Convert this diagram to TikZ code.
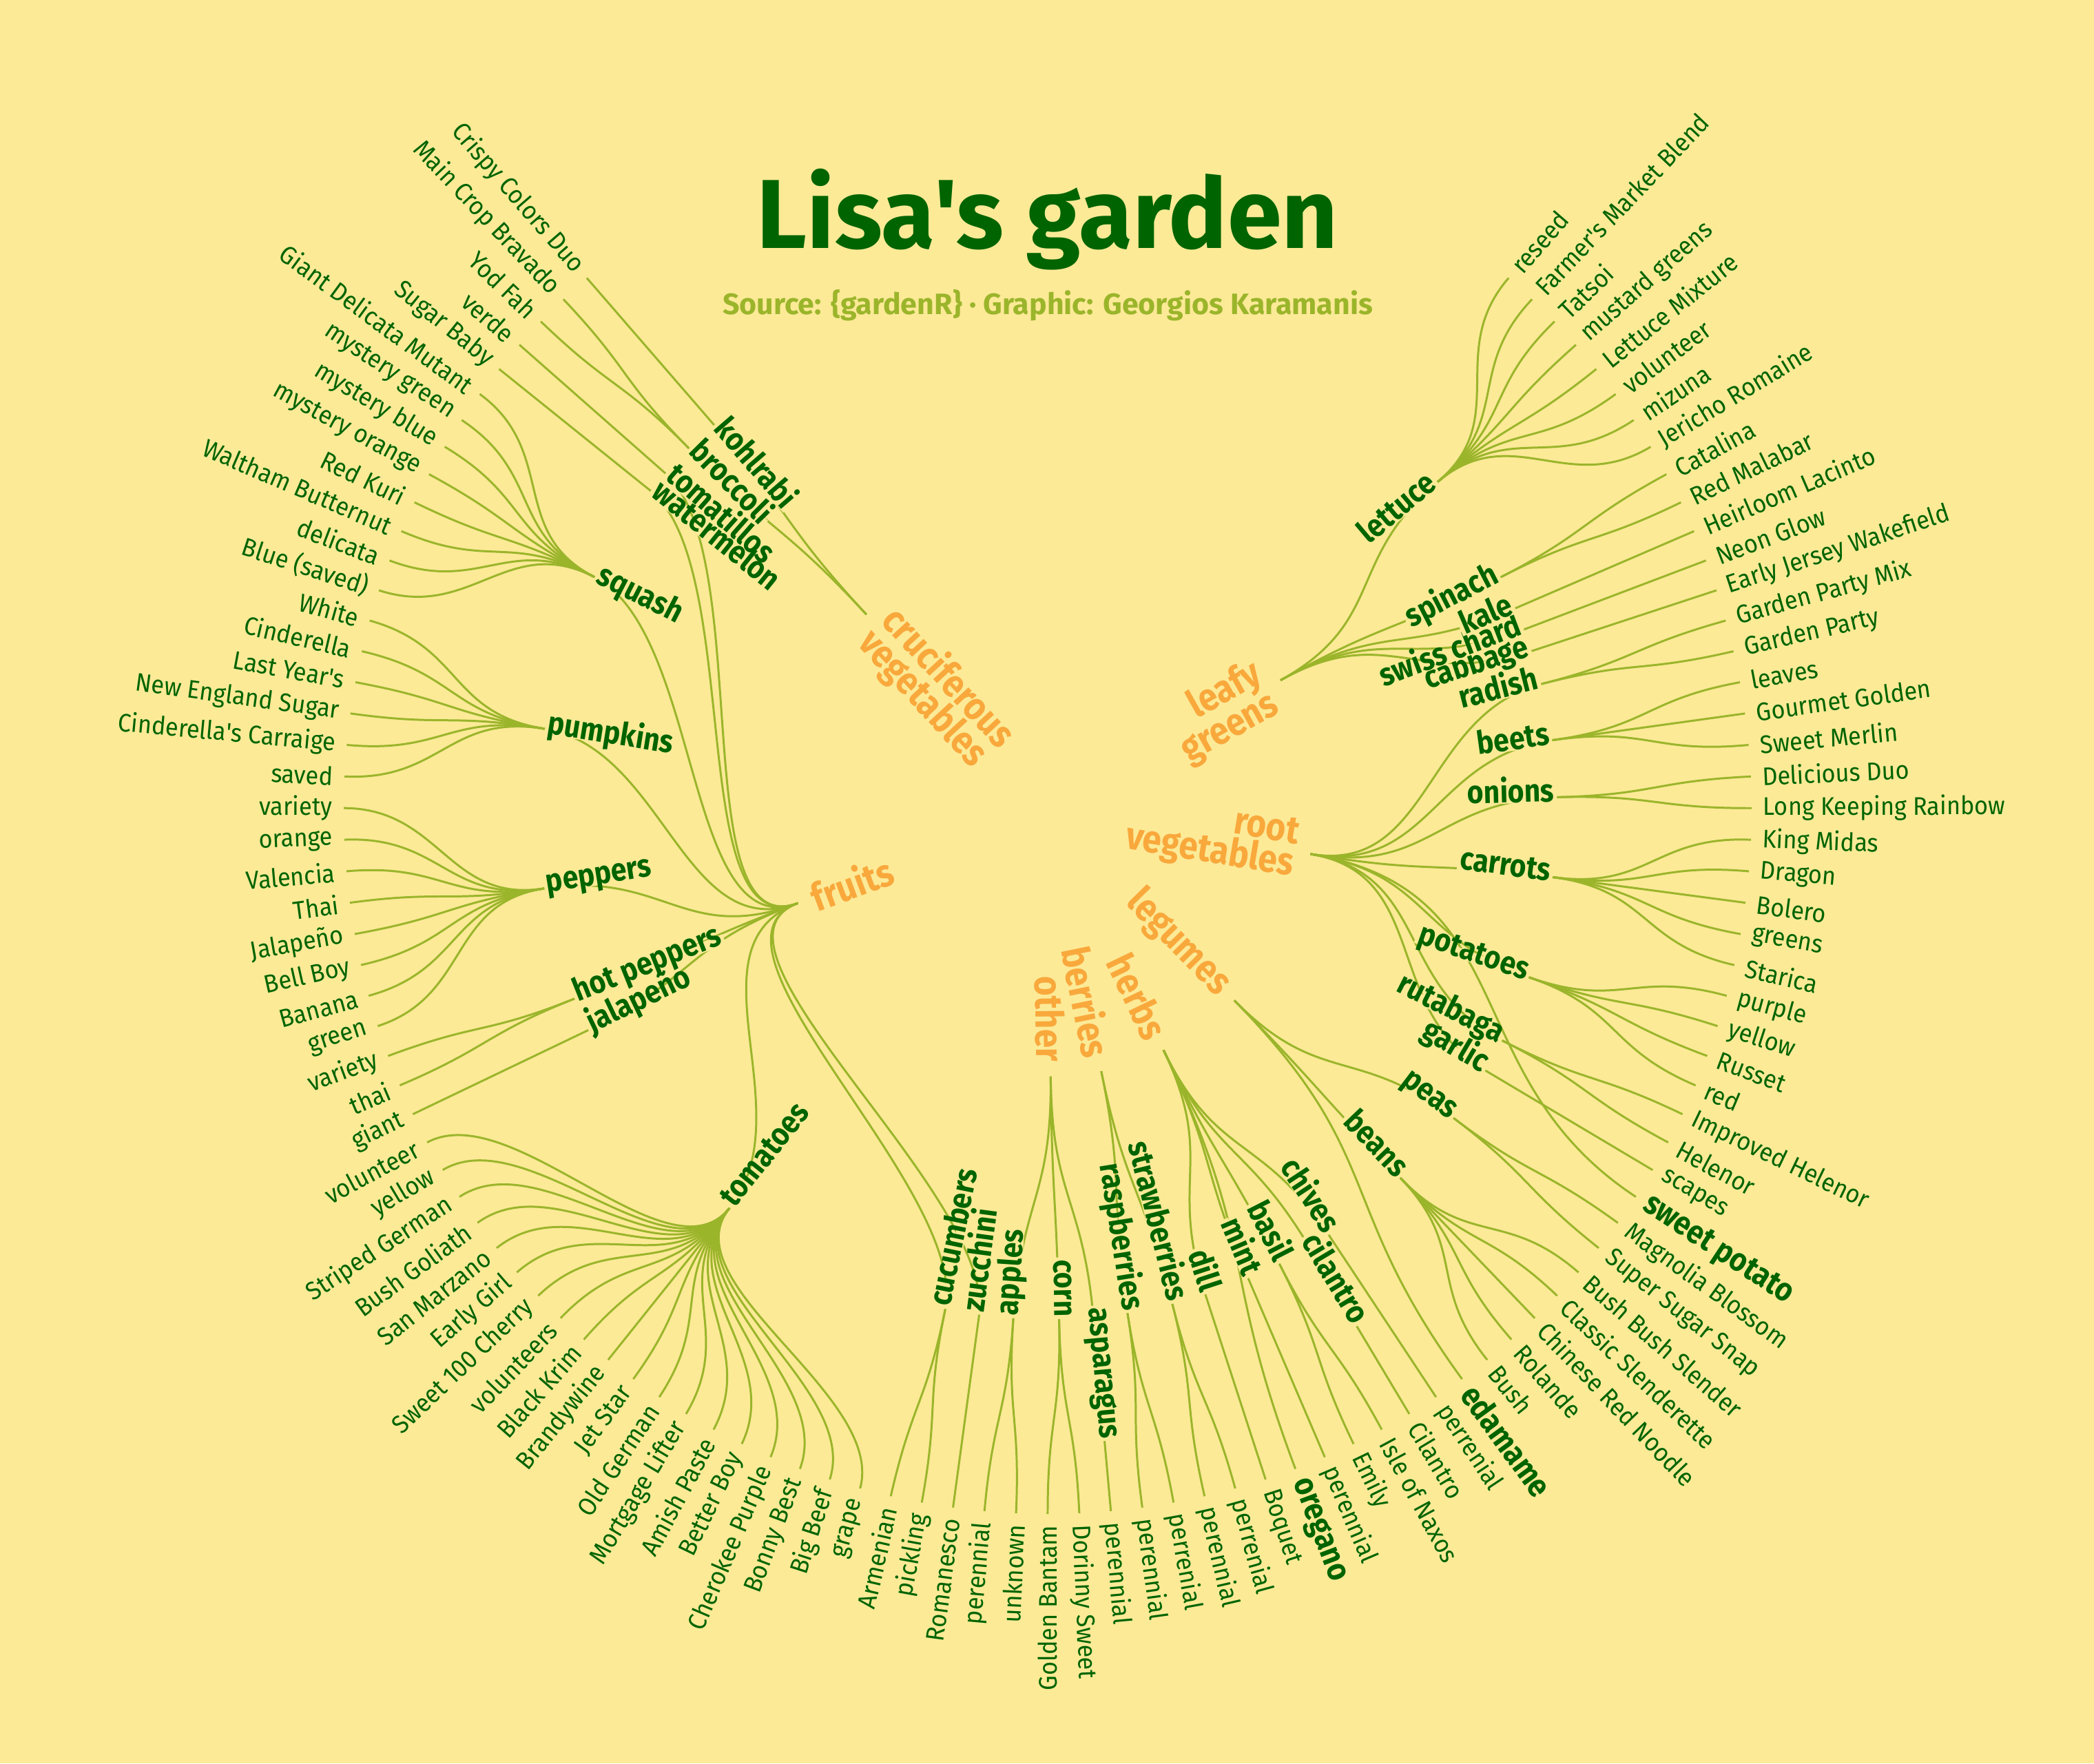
\documentclass[tikz,border=0pt]{standalone}
\usepackage{fontspec}
\newfontfamily\gardenfont{Fira Sans}
\newfontfamily\leaffont[FakeStretch=0.93]{Fira Sans}
\newfontfamily\narrowfont[FakeStretch=0.88]{Fira Sans}
\usetikzlibrary{calc}

\definecolor{paper}{HTML}{FCEA97}
\definecolor{deepgreen}{HTML}{006400}
\definecolor{twig}{HTML}{9BB52B}
\definecolor{catorange}{HTML}{F9A83C}

% radii (cm) of the rings and angle of leaf number #1
\def\rcat{3.87}
\def\ritem{7.40}
\def\rleaf{10.22}
\def\rtext{10.38}
\newcommand{\leafangle}[1]{\pgfmathsetmacro\ang{130.9+(#1)*2.5759}}

\tikzset{
  twigline/.style={draw=twig, line width=0.85pt},
  leaflbl/.style={font=\leaffont\fontsize{10.5}{11}\selectfont, text=deepgreen, inner sep=0pt},
  boldleaf/.style={font=\narrowfont\bfseries\fontsize{13.5}{14}\selectfont, text=deepgreen, inner sep=0pt},
  itemlbl/.style={font=\narrowfont\bfseries\fontsize{13.2}{14}\selectfont, text=deepgreen,
    fill=paper, inner xsep=1pt, inner ysep=0.4pt, text height=0.8ex, text depth=0pt},
  catlbl/.style={font=\narrowfont\bfseries\fontsize{16}{12}\selectfont, text=catorange, inner sep=0pt},
  titlelbl/.style={font=\gardenfont\bfseries\fontsize{40.5}{44}\selectfont, text=deepgreen, anchor=base},
  creditlbl/.style={font=\gardenfont\bfseries\fontsize{12.2}{14}\selectfont, text=twig, anchor=base},
}

% radial label: style, name, angle, radius, outward (1) / inward (0), text
\newcommand{\radlabel}[6]{%
  \pgfmathtruncatemacro\rside{cos(#3)>=0}%
  \pgfmathsetmacro\rrot{\rside==1 ? #3 : #3+180}%
  \pgfmathtruncatemacro\rwest{\rside==#5}%
  \ifnum\rwest=1 \def\ranc{west}\def\ral{left}\else\def\ranc{east}\def\ral{right}\fi
  \edef\ropts{#1, rotate=\rrot, anchor=\ranc, align=\ral}%
  \expandafter\node\expandafter[\ropts] (#2) at (#3:#4) {#6};%
}

% item / first leaf / last leaf / category / category position / label / outward
\def\itemlist{%
  kohlrabi/0/0/cru/0.75/kohlrabi/0,
  broccoli/1/2/cru/0.75/broccoli/0,
  tomatillos/3/3/fru/27/tomatillos/0,
  watermelon/4/4/fru/27/watermelon/0,
  squash/5/12/fru/27/squash/0,
  pumpkins/13/18/fru/27/pumpkins/0,
  peppers/19/26/fru/27/peppers/0,
  hotpeppers/27/28/fru/27/hot peppers/0,
  jalapeno/29/29/fru/27/jalapeño/0,
  tomatoes/30/48/fru/27/tomatoes/0,
  cucumbers/49/50/fru/27/cucumbers/0,
  zucchini/51/51/fru/27/zucchini/0,
  apples/52/53/oth/54.25/apples/0,
  corn/54/55/oth/54.25/corn/0,
  asparagus/56/56/oth/54.25/asparagus/1,
  raspberries/57/58/ber/58.5/raspberries/0,
  strawberries/59/60/ber/58.5/strawberries/0,
  dill/61/61/her/64/dill/0,
  mint/63/63/her/64/mint/0,
  basil/64/65/her/64/basil/0,
  cilantro/66/66/her/64/cilantro/1,
  chives/67/67/her/64/chives/0,
  beans/69/73/leg/71.25/beans/0,
  peas/74/75/leg/71.25/peas/0,
  garlic/77/77/roo/85.25/garlic/0,
  rutabaga/78/79/roo/85.25/rutabaga/0,
  potatoes/80/83/roo/85.25/potatoes/0,
  carrots/84/88/roo/85.25/carrots/0,
  onions/89/90/roo/85.25/onions/0,
  beets/91/93/roo/85.25/beets/0,
  radish/94/95/roo/85.25/radish/0,
  cabbage/96/96/lea/100.25/cabbage/0,
  swisschard/97/97/lea/100.25/swiss chard/0,
  kale/98/98/lea/100.25/kale/0,
  spinach/99/100/lea/100.25/spinach/0,
  lettuce/101/108/lea/100.25/lettuce/0}

\begin{document}
\begin{tikzpicture}

\path[fill=paper, use as bounding box] (-15.21,-13.84) rectangle (15.19,11.76);

\node[titlelbl] (title) at (0,8.15) {Lisa's garden};
\node[creditlbl] (credit) at (0,7.19) {Source: \{gardenR\} · Graphic: Georgios Karamanis};

% ring points
\foreach \i in {0,...,108} {
  \leafangle{\i}
  \coordinate (leaf\i) at (\ang:\rleaf);
}
\foreach \cat/\catx in {cru/0.75, fru/27, oth/54.25, ber/58.5, her/64, leg/71.25, roo/85.25, lea/100.25} {
  \leafangle{\catx}
  \coordinate (\cat) at (\ang:\rcat);
}
\foreach \itm/\fst/\lst/\cat/\catx/\txt/\outw in \itemlist {
  \leafangle{(\fst+\lst)/2}
  \coordinate (\itm) at (\ang:\ritem);
}

% branches
\foreach \itm/\fst/\lst/\cat/\catx/\txt/\outw in \itemlist {
  \leafangle{\catx}\let\ca\ang
  \leafangle{(\fst+\lst)/2}\let\ia\ang
  \draw[twigline] (\cat) .. controls (\ca:5.635) and (\ia:5.635) .. (\itm);
  \foreach \j in {\fst,...,\lst} {
    \leafangle{\j}
    \draw[twigline] (\itm) .. controls (\ia:8.81) and (\ang:8.81) .. (leaf\j);
  }
}
\foreach \cat/\catx/\j in {her/64/62, leg/71.25/68, roo/85.25/76} {
  \leafangle{\catx}\let\ca\ang
  \leafangle{\j}
  \draw[twigline] (\cat) .. controls (\ca:7.045) and (\ang:7.045) .. (leaf\j);
}

% item labels
\foreach \itm/\fst/\lst/\cat/\catx/\txt/\outw in \itemlist {
  \leafangle{(\fst+\lst)/2}
  \pgfmathsetmacro\rr{\outw==1 ? 7.22 : \ritem}
  \radlabel{itemlbl}{\itm-l}{\ang}{\rr}{\outw}{\txt}
}

% category labels
\foreach \cat/\catx/\txt in {cru/0.75/cruciferous\\vegetables, fru/27/fruits, oth/54.25/other,
    ber/58.5/berries, her/64/herbs, leg/71.25/legumes, roo/85.25/root\\vegetables, lea/100.25/leafy\\greens} {
  \leafangle{\catx}
  \radlabel{catlbl}{\cat-l}{\ang}{3.66}{0}{\txt}
}

% leaf labels
\foreach \i/\txt in {0/Crispy Colors Duo, 1/Main Crop Bravado, 2/Yod Fah, 3/verde, 4/Sugar Baby,
    5/Giant Delicata Mutant, 6/mystery green, 7/mystery blue, 8/mystery orange, 9/Red Kuri,
    10/Waltham Butternut, 11/delicata, 12/Blue (saved), 13/White, 14/Cinderella, 15/Last Year's,
    16/New England Sugar, 17/Cinderella's Carraige, 18/saved, 19/variety, 20/orange, 21/Valencia,
    22/Thai, 23/Jalapeño, 24/Bell Boy, 25/Banana, 26/green, 27/variety, 28/thai, 29/giant,
    30/volunteer, 31/yellow, 32/Striped German, 33/Bush Goliath, 34/San Marzano, 35/Early Girl,
    36/Sweet 100 Cherry, 37/volunteers, 38/Black Krim, 39/Brandywine, 40/Jet Star, 41/Old German,
    42/Mortgage Lifter, 43/Amish Paste, 44/Better Boy, 45/Cherokee Purple, 46/Bonny Best,
    47/Big Beef, 48/grape, 49/Armenian, 50/pickling, 51/Romanesco, 52/perennial, 53/unknown,
    54/Golden Bantam, 55/Dorinny Sweet, 56/perennial, 57/perennial, 58/perrenial, 59/perennial,
    60/perrenial, 61/Boquet, 63/perennial, 64/Emily, 65/Isle of Naxos, 66/Cilantro, 67/perrenial,
    69/Bush, 70/Rolande, 71/Chinese Red Noodle, 72/Classic Slenderette, 73/Bush Bush Slender,
    74/Super Sugar Snap, 75/Magnolia Blossom, 77/scapes, 78/Helenor, 79/Improved Helenor, 80/red,
    81/Russet, 82/yellow, 83/purple, 84/Starica, 85/greens, 86/Bolero, 87/Dragon, 88/King Midas,
    89/Long Keeping Rainbow, 90/Delicious Duo, 91/Sweet Merlin, 92/Gourmet Golden, 93/leaves,
    94/Garden Party, 95/Garden Party Mix, 96/Early Jersey Wakefield, 97/Neon Glow,
    98/Heirloom Lacinto, 99/Red Malabar, 100/Catalina, 101/Jericho Romaine, 102/mizuna,
    103/volunteer, 104/Lettuce Mixture, 105/mustard greens, 106/Tatsoi,
    107/Farmer's Market Blend, 108/reseed} {
  \leafangle{\i}
  \radlabel{leaflbl}{lbl\i}{\ang}{\rtext}{1}{\txt}
}
\foreach \i/\txt in {62/oregano, 68/edamame, 76/sweet potato} {
  \leafangle{\i}
  \radlabel{boldleaf}{lbl\i}{\ang}{\rtext}{1}{\txt}
}

\end{tikzpicture}
\end{document}
